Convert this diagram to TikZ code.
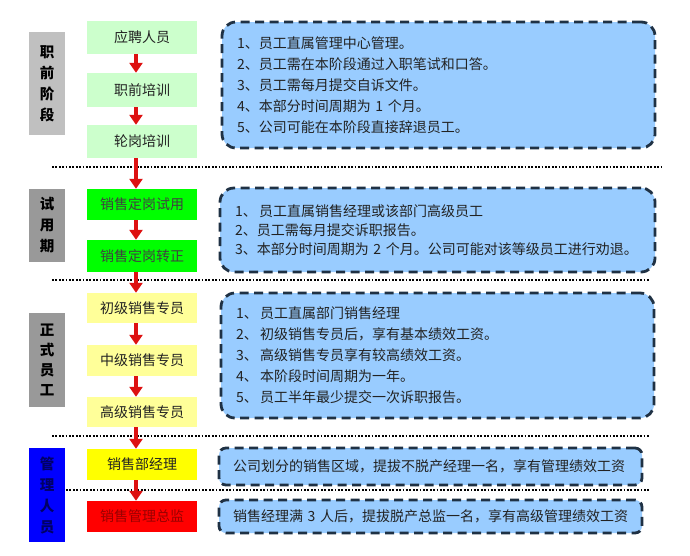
\documentclass[tikz,border=0pt]{standalone}
\usepackage{fontspec}
\setmainfont{Noto Sans CJK SC}
\usetikzlibrary{arrows.meta}
\definecolor{lgreen}{HTML}{CCFFCC}
\definecolor{bgreen}{HTML}{00FF00}
\definecolor{lyellow}{HTML}{FFFF99}
\definecolor{byellow}{HTML}{FFFF00}
\definecolor{bred}{HTML}{FF0000}
\definecolor{dred}{HTML}{990000}
\definecolor{gray1}{HTML}{C0C0C0}
\definecolor{gray2}{HTML}{999999}
\definecolor{bblue}{HTML}{0000FF}
\definecolor{navy}{HTML}{000066}
\definecolor{lblue}{HTML}{99CCFF}
\definecolor{bordc}{HTML}{1F3144}
\definecolor{arrc}{HTML}{DD1111}
\definecolor{txt}{HTML}{222222}
\tikzset{
  stagebox/.style={draw=none, minimum width=110pt, inner sep=0pt, font=\fontsize{14}{16}\selectfont, text=txt},
  sidelabel/.style={draw=none, minimum width=36pt, inner sep=0pt, align=center, font=\fontsize{14.5}{21}\selectfont\bfseries},
  notebox/.style={draw=bordc, fill=lblue, line width=2.8pt, dash pattern=on 9pt off 5.5pt, rounded corners=14pt, inner xsep=15pt, inner ysep=0pt, align=left, text=txt, font=\fontsize{14}{21}\selectfont},
  redarrow/.style={draw=arrc, line width=4.5pt, -{Triangle[width=13pt,length=10pt]}},
  sepline/.style={draw=black, line width=2pt, dash pattern=on 1.8pt off 1.6pt},
}
\begin{document}
\begin{tikzpicture}[x=1pt,y=-1pt]
\useasboundingbox[fill=white] (0,0) rectangle (690,555);

% side labels
\node[sidelabel, fill=gray1, minimum height=103pt] (L1) at (47,83.5) {职\\前\\阶\\段};
\node[sidelabel, fill=gray2, minimum height=73pt] (L2) at (47,225.5) {试\\用\\期};
\node[sidelabel, fill=gray2, minimum height=94pt, font=\fontsize{14.5}{20}\selectfont\bfseries] (L3) at (47,360) {正\\式\\员\\工};
\node[sidelabel, fill=bblue, text=navy, minimum height=94pt] (L4) at (47,495) {管\\理\\人\\员};

% separator lines
\coordinate (d1a) at (52,167); \coordinate (d1b) at (662,167);
\coordinate (d2a) at (52,280); \coordinate (d2b) at (650,280);
\coordinate (d3a) at (52,436); \coordinate (d3b) at (650,436);
\coordinate (d4a) at (66,490); \coordinate (d4b) at (650,490);
\draw[sepline] (d1a) -- (d1b);
\draw[sepline] (d2a) -- (d2b);
\draw[sepline] (d3a) -- (d3b);
\draw[sepline] (d4a) -- (d4b);

% stage boxes
\node[stagebox, fill=lgreen, minimum height=33pt] (n1) at (142,37.5) {应聘人员};
\node[stagebox, fill=lgreen, minimum height=34pt] (n2) at (142,90) {职前培训};
\node[stagebox, fill=lgreen, minimum height=33pt] (n3) at (142,141.5) {轮岗培训};
\node[stagebox, fill=bgreen, minimum height=31pt, text=black!75] (n4) at (142,204.5) {销售定岗试用};
\node[stagebox, fill=bgreen, minimum height=32pt, text=black!75] (n5) at (142,256) {销售定岗转正};
\node[stagebox, fill=lyellow, minimum height=30pt] (n6) at (142,308) {初级销售专员};
\node[stagebox, fill=lyellow, minimum height=31pt] (n7) at (142,360.5) {中级销售专员};
\node[stagebox, fill=lyellow, minimum height=30pt] (n8) at (142,412) {高级销售专员};
\node[stagebox, fill=byellow, minimum height=31pt] (n9) at (142,464.5) {销售部经理};
\node[stagebox, fill=bred, minimum height=31pt, text=dred] (n10) at (142,516.5) {销售管理总监};

% arrows
\foreach \a/\b in {n1/n2,n2/n3,n3/n4,n4/n5,n5/n6,n6/n7,n7/n8,n8/n9,n9/n10}{
  \draw[redarrow] ([xshift=-6pt]\a.south) -- ([xshift=-6pt]\b.north);
}

% note boxes
\node[notebox, text width=403pt, minimum height=126pt] (b1) at (438.5,85) {1、员工直属管理中心管理。\\2、员工需在本阶段通过入职笔试和口答。\\3、员工需每月提交自诉文件。\\4、本部分时间周期为 1 个月。\\5、公司可能在本阶段直接辞退员工。};
\node[notebox, text width=405pt, minimum height=84pt, font=\fontsize{14}{19}\selectfont] (b2) at (437.5,230) {1、\,员工直属销售经理或该部门高级员工\\2、员工需每月提交诉职报告。\\3、本部分时间周期为 2 个月。公司可能对该等级员工进行劝退。};
\node[notebox, text width=403pt, minimum height=125pt] (b3) at (437.5,355.5) {1、\,员工直属部门销售经理\\2、\,初级销售专员后，享有基本绩效工资。\\3、\,高级销售专员享有较高绩效工资。\\4、\,本阶段时间周期为一年。\\5、\,员工半年最少提交一次诉职报告。};
\node[notebox, text width=395pt, minimum height=37pt, inner xsep=14pt, rounded corners=7pt, font=\fontsize{14}{16}\selectfont] (b4) at (430.5,466.5) {公司划分的销售区域，提拔不脱产经理一名，享有管理绩效工资};
\node[notebox, text width=395pt, minimum height=33pt, inner xsep=14pt, rounded corners=7pt, font=\fontsize{14}{16}\selectfont] (b5) at (430.5,516.5) {销售经理满 3 人后，提拔脱产总监一名，享有高级管理绩效工资};
\end{tikzpicture}
\end{document}
